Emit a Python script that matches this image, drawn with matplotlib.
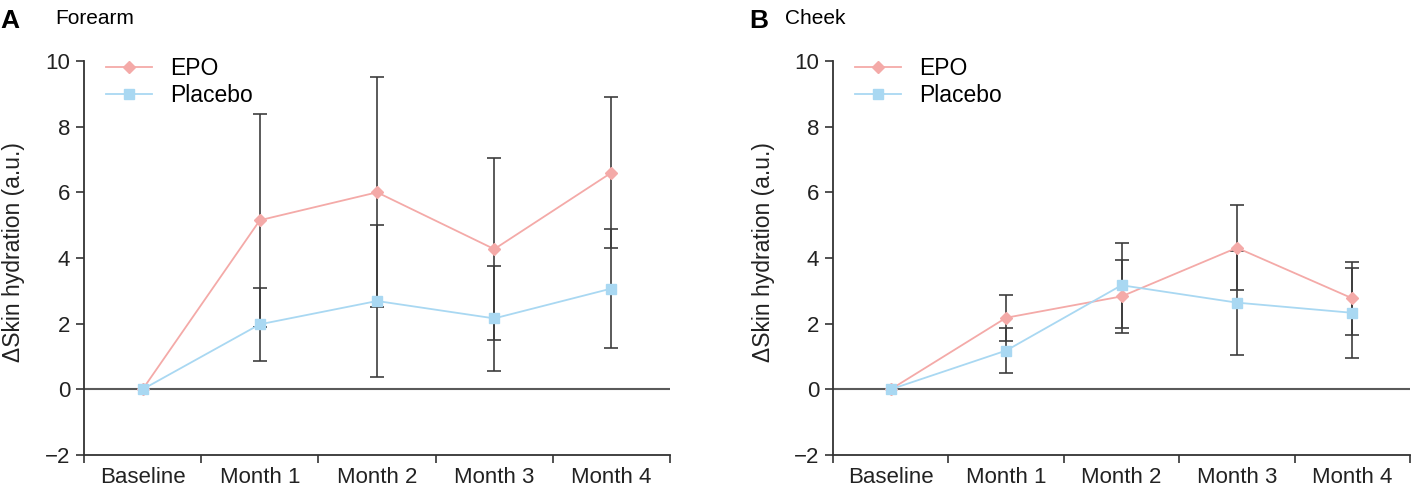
import matplotlib
matplotlib.use("Agg")
import matplotlib.pyplot as plt
import numpy as np

plt.rcParams.update({'font.size': 16})
plt.rcParams['font.family'] = ['Liberation Sans', 'DejaVu Sans']

months = ['Baseline', 'Month 1', 'Month 2', 'Month 3', 'Month 4']

# Forearm
forearm_epo = [0, 5.15, 6.0, 4.27, 6.6]
forearm_epo_err = [0, 3.25, 3.5, 2.78, 2.3]
forearm_pla = [0, 1.98, 2.69, 2.16, 3.07]
forearm_pla_err = [0, 1.12, 2.3, 1.6, 1.8]

# Cheek
cheek_epo = [0, 2.18, 2.83, 4.31, 2.77]
cheek_epo_err = [0, 0.7, 1.12, 1.3, 1.12]
cheek_pla = [0, 1.18, 3.17, 2.64, 2.33]
cheek_pla_err = [0, 0.68, 1.29, 1.58, 1.37]

epo_color = '#f4aaa8'
pla_color = '#a9d8f2'
err_color = '#3a3a3a'

fig = plt.figure(figsize=(14.17, 4.93), dpi=100)
ax1 = fig.add_axes([0.0593, 0.0771, 0.4136, 0.7992])
ax2 = fig.add_axes([0.5879, 0.0771, 0.4072, 0.7992])


def draw(ax, epo, epo_err, pla, pla_err):
    x = np.arange(len(months))
    # error bars (no bar at baseline)
    ax.errorbar(x[1:], epo[1:], yerr=epo_err[1:], fmt='none', ecolor=err_color,
                elinewidth=1.3, capsize=5, capthick=1.3, alpha=0.9, zorder=2)
    ax.errorbar(x[1:], pla[1:], yerr=pla_err[1:], fmt='none', ecolor=err_color,
                elinewidth=1.3, capsize=5, capthick=1.3, alpha=0.9, zorder=2)
    ax.plot(x, epo, color=epo_color, marker='D', markersize=6.5, linewidth=1.3,
            label='EPO', zorder=3)
    ax.plot(x, pla, color=pla_color, marker='s', markersize=6.5, linewidth=1.3,
            label='Placebo', zorder=3)
    ax.axhline(0, color='#5a5a5a', linewidth=1.5, zorder=1)

    ax.set_xlim(-0.5, len(months) - 0.5)
    ax.set_ylim(-2, 10)
    ax.set_yticks(range(-2, 11, 2))
    ax.set_yticklabels(['\u22122', '0', '2', '4', '6', '8', '10'])
    ax.set_xticks(x)
    ax.set_xticklabels(months)
    ax.set_xticks(np.arange(-0.5, len(months), 1), minor=True)
    ax.tick_params(axis='x', which='major', length=0, pad=9)
    ax.tick_params(axis='x', which='minor', length=6, width=1.2, color='#333333')
    ax.tick_params(axis='y', length=6, width=1.2, color='#333333', pad=4)
    ax.tick_params(labelsize=16, labelcolor='#222222')
    for s in ['top', 'right']:
        ax.spines[s].set_visible(False)
    for s in ['left', 'bottom']:
        ax.spines[s].set_color('#333333')
        ax.spines[s].set_linewidth(1.3)
    ax.set_ylabel('\u0394Skin hydration (a.u.)', fontsize=16.5, color='#222222')
    ax.yaxis.set_label_coords(-0.10, 0.515)
    ax.legend(loc='upper left', bbox_to_anchor=(0.01, 1.05), frameon=False,
              fontsize=16.5, handlelength=2.0, handletextpad=0.8,
              labelspacing=0.15, borderaxespad=0.3)


draw(ax1, forearm_epo, forearm_epo_err, forearm_pla, forearm_pla_err)
draw(ax2, cheek_epo, cheek_epo_err, cheek_pla, cheek_pla_err)

fig.text(0.0, 0.957, 'A', fontsize=19, fontweight='bold', va='center', ha='left')
fig.text(0.039, 0.962, 'Forearm', fontsize=15, va='center', ha='left')
fig.text(0.529, 0.957, 'B', fontsize=19, fontweight='bold', va='center', ha='left')
fig.text(0.554, 0.962, 'Cheek', fontsize=15, va='center', ha='left')

fig.savefig('out.png', dpi=100)
